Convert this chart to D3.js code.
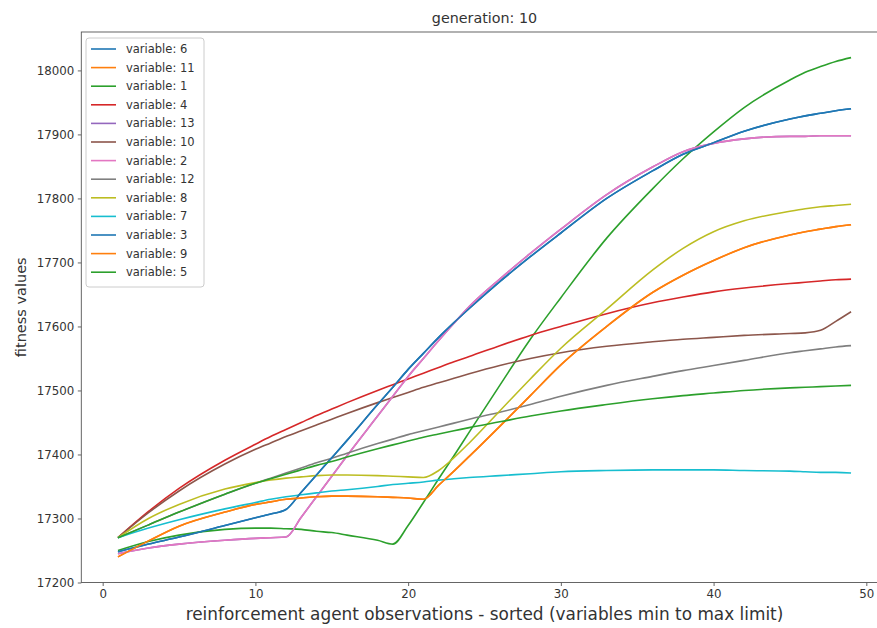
<!DOCTYPE html>
<html><head><meta charset="utf-8">
<script src="https://cdn.jsdelivr.net/npm/d3@7"></script>
<style>body{margin:0;background:#fff}</style>
</head><body><svg id="c" width="877" height="628"></svg>
<script>
// shared x positions (observation index)
const xs = [1,3,5,8,10,11,12,13,14,15,16,18,19,20,21,22,23,24,26,28,30,33,36,38,40,42,45,46,47,48,49];

const var6  = [17248,17260,17271,17289,17301,17307,17314,17341,17368,17395,17422,17478,17505,17533,17558,17583,17606,17628,17670,17709,17746,17800,17843,17869,17887,17905,17924,17929,17933,17937,17940];
const var11 = [17240,17265,17288,17310,17322,17326,17330,17332,17334,17335,17335,17334,17333,17332,17330,17352,17374,17397,17444,17492,17540,17600,17653,17680,17703,17723,17743,17748,17752,17756,17759];
const var1  = [17250,17264,17274,17283,17285,17285,17284,17283,17280,17278,17274,17266,17260,17289,17325,17362,17398,17435,17508,17580,17645,17738,17815,17862,17904,17942,17985,17997,18006,18014,18020];
const var4  = [17270,17311,17347,17391,17416,17428,17439,17450,17461,17471,17481,17500,17509,17518,17527,17536,17545,17553,17570,17586,17600,17620,17637,17646,17654,17660,17667,17669,17671,17673,17674];
const var13 = [17245,17254,17260,17266,17269,17270,17271,17302,17334,17366,17398,17460,17491,17522,17550,17578,17605,17631,17674,17714,17752,17806,17849,17873,17886,17893,17897,17897,17898,17898,17898];
const var10 = [17270,17309,17343,17385,17408,17418,17428,17437,17446,17455,17464,17481,17489,17497,17505,17512,17519,17526,17539,17550,17559,17569,17576,17580,17583,17586,17589,17590,17594,17608,17623];
const var2  = [17245,17254,17260,17266,17269,17270,17271,17302,17334,17366,17398,17460,17491,17522,17550,17578,17605,17631,17674,17714,17752,17806,17849,17873,17886,17893,17897,17897,17898,17898,17898];
const var12 = [17270,17290,17310,17338,17355,17363,17371,17379,17387,17394,17402,17417,17424,17431,17437,17443,17449,17455,17466,17478,17491,17508,17522,17531,17539,17547,17559,17562,17565,17568,17570];
const var8  = [17270,17300,17322,17346,17356,17360,17363,17365,17367,17368,17368,17367,17366,17365,17364,17375,17395,17418,17468,17518,17566,17627,17688,17722,17748,17765,17780,17784,17787,17789,17791];
const var7  = [17270,17285,17298,17315,17325,17330,17334,17337,17340,17343,17345,17350,17353,17355,17357,17360,17362,17364,17367,17370,17373,17375,17376,17376,17376,17375,17374,17373,17372,17372,17371];
const var3  = [17248,17260,17271,17289,17301,17307,17314,17341,17368,17395,17422,17478,17505,17533,17558,17583,17606,17628,17670,17709,17746,17800,17843,17869,17887,17905,17924,17929,17933,17937,17940];
const var9  = [17240,17265,17288,17310,17322,17326,17330,17332,17334,17335,17335,17334,17333,17332,17330,17352,17374,17397,17444,17492,17540,17600,17653,17680,17703,17723,17743,17748,17752,17756,17759];
const var5  = [17270,17290,17310,17338,17355,17362,17369,17376,17383,17389,17396,17409,17415,17421,17427,17432,17437,17442,17451,17460,17468,17478,17487,17492,17496,17500,17504,17505,17506,17507,17508];

const seriesNames  = ["6","11","1","4","13","10","2","12","8","7","3","9","5"];
const seriesValues = [var6,var11,var1,var4,var13,var10,var2,var12,var8,var7,var3,var9,var5];
const colors = ["#1f77b4","#ff7f0e","#2ca02c","#d62728","#9467bd","#8c564b","#e377c2","#7f7f7f","#bcbd22","#17becf","#1f77b4","#ff7f0e","#2ca02c"];

const xTicks = [0,10,20,30,40,50];
const yTicks = [17200,17300,17400,17500,17600,17700,17800,17900,18000];

const titleText = "generation: 10";
const xLabel = "reinforcement agent observations - sorted (variables min to max limit)";
const yLabel = "fitness values";

const svg = d3.select("#c");
svg.append("rect").attr("width",877).attr("height",628).attr("fill","#fff");

const L = 81.3, R = 887.7, T = 32, B = 582.5;
const x = d3.scaleLinear().domain([-1.4, 51.4]).range([L, R]);
const y = d3.scaleLinear().domain([17200, 18060]).range([B, T]);

const textCol = "#333";
const font = "DejaVu Sans, sans-serif";

// lines
const line = d3.line().x((d,i)=>x(xs[i])).y(d=>y(d)).curve(d3.curveMonotoneX);
seriesValues.forEach((vals,k)=>{
  svg.append("path").datum(vals).attr("d",line)
    .attr("fill","none").attr("stroke",colors[k]).attr("stroke-width",1.6)
    .attr("stroke-linejoin","round").attr("stroke-linecap","butt");
});

// axes
const gx = svg.append("g").attr("transform",`translate(0,${B})`)
  .call(d3.axisBottom(x).tickValues(xTicks).tickSize(3.5).tickPadding(3.5).tickFormat(d3.format("d")));
const gy = svg.append("g").attr("transform",`translate(${L},0)`)
  .call(d3.axisLeft(y).tickValues(yTicks).tickSize(3.5).tickPadding(3.5).tickFormat(d3.format("d")));
[gx,gy].forEach(g=>{
  g.select(".domain").remove();
  g.selectAll(".tick line").attr("stroke","#555").attr("stroke-width",0.9);
  g.selectAll(".tick text").attr("fill",textCol).style("font-family",font).style("font-size","11.8px");
});

// frame
svg.append("rect").attr("x",L).attr("y",T).attr("width",R-L).attr("height",B-T)
  .attr("fill","none").attr("stroke","#555").attr("stroke-width",0.9);

// title & labels
svg.append("text").attr("x",(L+R)/2).attr("y",23).attr("text-anchor","middle")
  .attr("fill",textCol).style("font-family",font).style("font-size","14.3px").text(titleText);
svg.append("text").attr("x",(L+R)/2).attr("y",620).attr("text-anchor","middle")
  .attr("fill",textCol).style("font-family",font).style("font-size","16.9px").text(xLabel);
svg.append("text").attr("transform",`translate(26,${(T+B)/2}) rotate(-90)`).attr("text-anchor","middle")
  .attr("fill",textCol).style("font-family",font).style("font-size","14.5px").text(yLabel);

// legend
const lg = svg.append("g");
lg.append("rect").attr("x",86).attr("y",38).attr("width",118).attr("height",249).attr("rx",3)
  .attr("fill","#fff").attr("fill-opacity",0.8).attr("stroke","#ccc").attr("stroke-width",1);
seriesNames.forEach((n,k)=>{
  const yy = 49 + k*18.6;
  lg.append("line").attr("x1",91).attr("x2",116).attr("y1",yy).attr("y2",yy)
    .attr("stroke",colors[k]).attr("stroke-width",1.6);
  lg.append("text").attr("x",126).attr("y",yy+4).attr("fill",textCol)
    .style("font-family",font).style("font-size","11.5px").text("variable: "+n);
});
</script></body></html>
